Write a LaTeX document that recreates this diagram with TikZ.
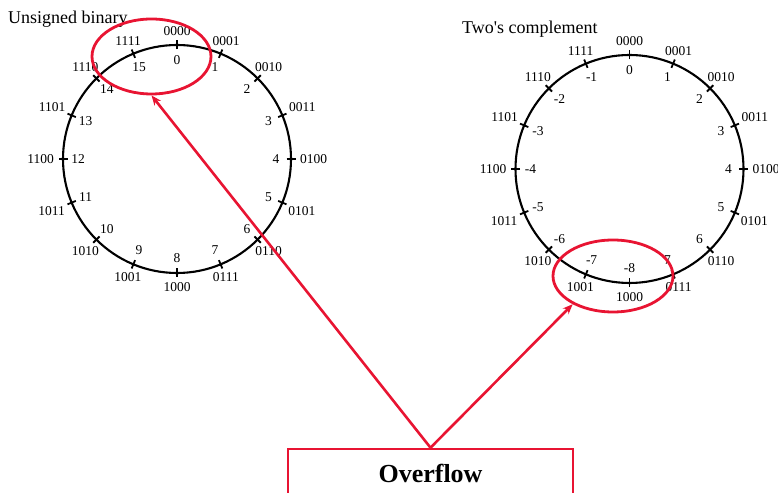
\documentclass[tikz,border=0pt]{standalone}
\usepackage{fontspec}
\setmainfont{Liberation Serif}
\usetikzlibrary{arrows.meta,shapes.geometric}
\definecolor{ovred}{RGB}{232,20,50}
\begin{document}
\begin{tikzpicture}[x=1pt,y=1pt,
  ring/.style={line width=2.1pt},
  tickmark/.style={line width=1.8pt},
  numlbl/.style={font=\fontsize{13.5}{14}\selectfont, inner sep=0pt},
  titlelbl/.style={font=\fontsize{18}{20}\selectfont, anchor=base west, inner sep=0pt},
  ovell/.style={draw=ovred, line width=2.8pt, ellipse, inner sep=0pt},
  ovarrow/.style={draw=ovred, line width=2.6pt, -{Stealth[length=10pt,width=8pt]}},
  ovbox/.style={draw=ovred, line width=2.6pt, font=\fontsize{26}{28}\selectfont\bfseries, minimum width=285, minimum height=48}]
\useasboundingbox (0,0) rectangle (778,492);
\clip (0,0) rectangle (778,492);
\node[titlelbl] (t1) at (8,468.7) {Unsigned binary};
\node[titlelbl] (t2) at (462,458.7) {Two\textquotesingle s complement};
\coordinate (cL) at (177,333);
\coordinate (cR) at (629.5,323);
\draw[ring] (cL) circle (114);
\draw[ring] (cR) circle (114);
\foreach \k/\b in {0/0000,1/0001,2/0010,3/0011,4/0100,5/0101,6/0110,7/0111,8/1000,9/1001,10/1010,11/1011,12/1100,13/1101,14/1110,15/1111} {
  \pgfmathsetmacro{\a}{90-22.5*\k}
  \pgfmathsetmacro{\aa}{mod(\a+540,360)}
  \pgfmathtruncatemacro{\s}{\k<8 ? \k : \k-16}
  \draw[tickmark] ([shift={(\a:109.5)}]cL) -- ([shift={(\a:118.5)}]cL);
  \draw[tickmark] ([shift={(\a:109.5)}]cR) -- ([shift={(\a:118.5)}]cR);
  \node[numlbl] (Ld\k) at ([shift={(\a:99)}]cL) {\k};
  \node[numlbl, anchor=\aa] (Lb\k) at ([shift={(\a:123)}]cL) {\b};
  \node[numlbl] (Rd\k) at ([shift={(\a:99)}]cR) {\s};
  \node[numlbl, anchor=\aa] (Rb\k) at ([shift={(\a:123)}]cR) {\b};
}
\node[ovell, minimum width=119, minimum height=75] (eL) at (151.5,435.5) {};
\node[ovell, minimum width=120, minimum height=72] (eR) at (613,216) {};
\node[ovbox] (ov) at (430.5,19) {Overflow};
\draw[ovarrow] (ov.north) -- (eL.south);
\draw[ovarrow] (ov.north) -- (eR.215);
\end{tikzpicture}
\end{document}
